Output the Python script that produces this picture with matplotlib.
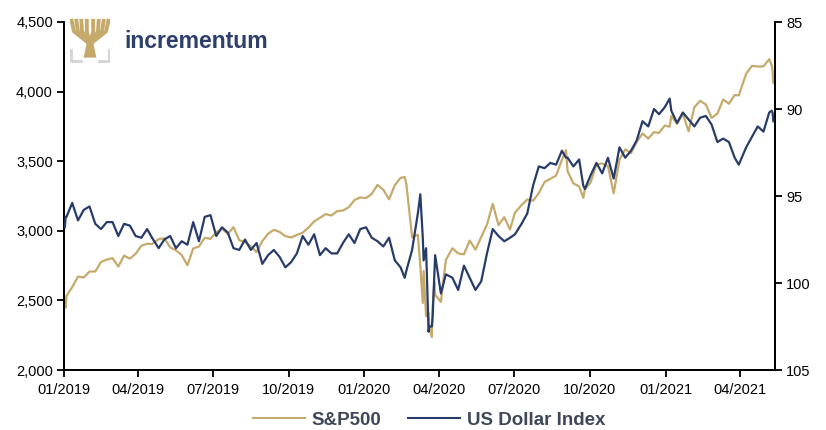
import matplotlib
matplotlib.use("Agg")
import matplotlib.pyplot as plt
import pandas as pd

plt.rcParams['font.family'] = ['Liberation Sans', 'DejaVu Sans']

dates = [
    "2019-01-02", "2019-01-03", "2019-01-04", "2019-01-11", "2019-01-18", "2019-01-25",
    "2019-02-01", "2019-02-08", "2019-02-15", "2019-02-22", "2019-03-01", "2019-03-08",
    "2019-03-15", "2019-03-22", "2019-03-29", "2019-04-05", "2019-04-12", "2019-04-18",
    "2019-04-26", "2019-05-03", "2019-05-10", "2019-05-17", "2019-05-24", "2019-05-31",
    "2019-06-07", "2019-06-14", "2019-06-21", "2019-06-28", "2019-07-05", "2019-07-12",
    "2019-07-19", "2019-07-26", "2019-08-02", "2019-08-09", "2019-08-16", "2019-08-23",
    "2019-08-30", "2019-09-06", "2019-09-13", "2019-09-20", "2019-09-27", "2019-10-04",
    "2019-10-11", "2019-10-18", "2019-10-25", "2019-11-01", "2019-11-08", "2019-11-15",
    "2019-11-22", "2019-11-29", "2019-12-06", "2019-12-13", "2019-12-20", "2019-12-27",
    "2020-01-03", "2020-01-10", "2020-01-17", "2020-01-24", "2020-01-31", "2020-02-07",
    "2020-02-14", "2020-02-19", "2020-02-21", "2020-02-28", "2020-03-06", "2020-03-09",
    "2020-03-12", "2020-03-13", "2020-03-16", "2020-03-18", "2020-03-19", "2020-03-20",
    "2020-03-23", "2020-03-24", "2020-03-26", "2020-03-27", "2020-04-03", "2020-04-09",
    "2020-04-17", "2020-04-24", "2020-05-01", "2020-05-08", "2020-05-15", "2020-05-22",
    "2020-05-29", "2020-06-05", "2020-06-12", "2020-06-19", "2020-06-26", "2020-07-02",
    "2020-07-10", "2020-07-17", "2020-07-24", "2020-07-31", "2020-08-07", "2020-08-14",
    "2020-08-21", "2020-08-28", "2020-09-02", "2020-09-04", "2020-09-11", "2020-09-18",
    "2020-09-23", "2020-09-25", "2020-10-02", "2020-10-09", "2020-10-16", "2020-10-23",
    "2020-10-30", "2020-11-06", "2020-11-13", "2020-11-20", "2020-11-27", "2020-12-04",
    "2020-12-11", "2020-12-18", "2020-12-24", "2020-12-31", "2021-01-06", "2021-01-08",
    "2021-01-15", "2021-01-22", "2021-01-29", "2021-02-05", "2021-02-12", "2021-02-19",
    "2021-02-26", "2021-03-05", "2021-03-12", "2021-03-19", "2021-03-26", "2021-03-31",
    "2021-04-09", "2021-04-16", "2021-04-23", "2021-04-30", "2021-05-07", "2021-05-10",
    "2021-05-11", "2021-05-12",
]

sp500 = [
    2510, 2448, 2532, 2596, 2671, 2665,
    2707, 2708, 2776, 2793, 2804, 2743,
    2822, 2800, 2834, 2893, 2907, 2905,
    2940, 2946, 2881, 2860, 2826, 2752,
    2873, 2887, 2950, 2942, 2990, 3014,
    2977, 3026, 2932, 2919, 2889, 2847,
    2926, 2979, 3007, 2992, 2962, 2952,
    2970, 2986, 3023, 3067, 3093, 3120,
    3110, 3141, 3146, 3169, 3221, 3240,
    3235, 3265, 3330, 3295, 3226, 3328,
    3380, 3386, 3338, 2954, 2972, 2747,
    2481, 2711, 2386, 2398, 2409, 2305,
    2237, 2447, 2630, 2541, 2489, 2790,
    2875, 2837, 2831, 2930, 2864, 2955,
    3044, 3194, 3041, 3098, 3009, 3130,
    3185, 3225, 3216, 3271, 3351, 3373,
    3397, 3508, 3580, 3427, 3341, 3319,
    3237, 3298, 3348, 3477, 3484, 3465,
    3270, 3510, 3585, 3558, 3638, 3699,
    3663, 3709, 3703, 3756, 3748, 3825,
    3768, 3841, 3714, 3887, 3934, 3907,
    3811, 3842, 3943, 3913, 3975, 3973,
    4129, 4185, 4180, 4181, 4233, 4189,
    4152, 4063,
]

dxy = [
    96.8, 96.2, 96.2, 95.4, 96.4, 95.8,
    95.6, 96.6, 96.9, 96.5, 96.5, 97.3,
    96.6, 96.7, 97.3, 97.4, 96.9, 97.4,
    98.0, 97.5, 97.3, 98.0, 97.6, 97.8,
    96.5, 97.6, 96.2, 96.1, 97.3, 96.8,
    97.1, 98.0, 98.1, 97.5, 98.1, 97.7,
    98.9, 98.4, 98.1, 98.5, 99.1, 98.8,
    98.3, 97.3, 97.8, 97.2, 98.4, 98.0,
    98.3, 98.3, 97.7, 97.2, 97.7, 96.9,
    96.8, 97.4, 97.6, 97.9, 97.4, 98.7,
    99.1, 99.7, 99.3, 98.1, 96.0, 94.9,
    97.4, 98.7, 98.0, 101.2, 102.8, 102.5,
    102.5, 101.9, 99.5, 98.4, 100.6, 99.5,
    99.7, 100.4, 99.0, 99.7, 100.4, 99.9,
    98.3, 96.9, 97.3, 97.6, 97.4, 97.2,
    96.6, 96.0, 94.4, 93.3, 93.4, 93.1,
    93.2, 92.4, 92.8, 92.8, 93.3, 92.9,
    94.4, 94.6, 93.8, 93.1, 93.7, 92.8,
    94.0, 92.2, 92.8, 92.4, 91.8, 90.7,
    91.0, 90.0, 90.3, 89.9, 89.4, 90.1,
    90.8, 90.2, 90.6, 91.0, 90.5, 90.4,
    90.9, 91.9, 91.7, 91.9, 92.8, 93.2,
    92.2, 91.6, 91.0, 91.3, 90.2, 90.1,
    90.2, 90.7,
]

tick_dates = ["2019-01-01", "2019-04-01", "2019-07-01", "2019-10-01", "2020-01-01",
              "2020-04-01", "2020-07-01", "2020-10-01", "2021-01-01", "2021-04-01"]
left_ticks = [2000, 2500, 3000, 3500, 4000, 4500]
right_ticks = [85, 90, 95, 100, 105]

GOLD = "#C6AA6C"
NAVY = "#283C69"

W, H = 826, 430
fig = plt.figure(figsize=(W / 100, H / 100), dpi=100)
ax = fig.add_axes([64 / W, 1 - 370 / H, (775 - 64) / W, (370 - 22) / H])
ax2 = ax.twinx()

d = pd.to_datetime(dates)
l1, = ax.plot(d, sp500, color=GOLD, lw=1.6, label="S&P500", zorder=2)
l2, = ax2.plot(d, dxy, color=NAVY, lw=1.6, label="US Dollar Index", zorder=3)

ax.set_xlim(pd.Timestamp("2019-01-01"), pd.Timestamp("2021-05-14"))
ax.set_ylim(2000, 4500)
ax2.set_ylim(105, 85)

ax.set_yticks(left_ticks)
ax.set_yticklabels([f"{v:,}" for v in left_ticks])
ax2.set_yticks(right_ticks)
ax2.set_yticklabels([str(v) for v in right_ticks])
td = pd.to_datetime(tick_dates)
ax.set_xticks(td)
ax.set_xticklabels([t.strftime("%m/%Y") for t in td])

for a in (ax, ax2):
    a.spines['top'].set_visible(False)
    for s in ('left', 'right', 'bottom'):
        a.spines[s].set_linewidth(1.3)
        a.spines[s].set_color('black')
    a.tick_params(axis='both', direction='out', length=5, width=1.3,
                  labelsize=10.5, colors='black', pad=3)
ax.tick_params(axis='x', pad=4)

leg = fig.legend([l1, l2], ["S&P500", "US Dollar Index"], loc='center',
                 bbox_to_anchor=(429 / W, 1 - 420 / H), ncol=2, frameon=False,
                 handlelength=2.8, columnspacing=1.4, handletextpad=0.35,
                 prop={'size': 13.5, 'weight': 'bold'})
for t in leg.get_texts():
    t.set_color("#3E4858")
for h in leg.legend_handles:
    h.set_linewidth(1.5)

# logo
lax = fig.add_axes([70 / W, 1 - 63 / H, 40 / W, 45 / H])
lax.set_xlim(0, 1)
lax.set_ylim(0, 1)
lax.axis('off')
trunk = plt.Polygon([[0.34, 0.12], [0.66, 0.12], [0.57, 0.5], [0.43, 0.5]],
                    color=GOLD, lw=0)
lax.add_patch(trunk)
for xt, xm in [(0.03, 0.1), (0.15, 0.2), (0.28, 0.3), (0.42, 0.42), (0.58, 0.58),
               (0.72, 0.7), (0.85, 0.8), (0.97, 0.9)]:
    lax.plot([0.5, xm, xt], [0.42, 0.7, 0.98], color=GOLD, lw=2.8,
             solid_capstyle='butt')
grey = "#D3D3D3"
lax.plot([0.02, 0.02, 0.28], [0.28, 0.04, 0.04], color=grey, lw=2)
lax.plot([0.72, 0.98, 0.98], [0.04, 0.04, 0.28], color=grey, lw=2)

fig.text(124 / W, 1 - 42 / H, "incrementum", color="#2D3F6B", fontsize=16.6,
         fontweight='bold', va='center', ha='left')

fig.savefig("out.png", dpi=100)
